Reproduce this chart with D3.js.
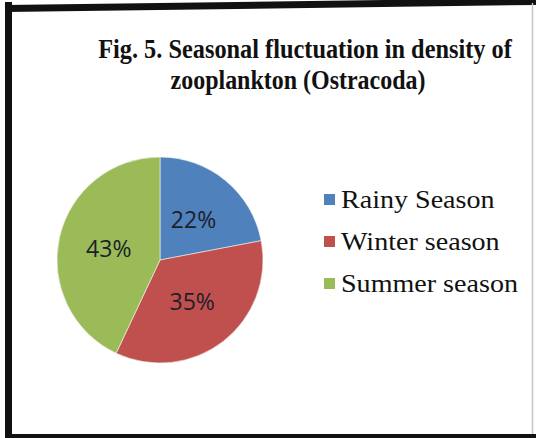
<!DOCTYPE html>
<html><head><meta charset="utf-8">
<script src="https://cdn.jsdelivr.net/npm/d3@7"></script>
<style>html,body{margin:0;padding:0;background:#fff;}svg{display:block;}</style>
</head><body>
<script>
const categories = ["Rainy Season", "Winter season", "Summer season"];
const values = [22, 35, 43];
const labels = ["22%", "35%", "43%"];
const titleLines = ["Fig. 5. Seasonal fluctuation in density of", "zooplankton (Ostracoda)"];
const colors = ["#4F81BD", "#C0504D", "#9BBB59"];

const W = 536, H = 438;
const svg = d3.select("body").append("svg").attr("width", W).attr("height", H);
svg.append("rect").attr("width", W).attr("height", H).attr("fill", "#fff");

// frame
svg.append("line").attr("x1", 8.5).attr("y1", 2).attr("x2", 8.5).attr("y2", 438)
  .attr("stroke", "#111").attr("stroke-width", 7);
svg.append("line").attr("x1", 5).attr("y1", 8.5).attr("x2", 536).attr("y2", 1.5)
  .attr("stroke", "#111").attr("stroke-width", 7);
svg.append("line").attr("x1", 5).attr("y1", 436).attr("x2", 536).attr("y2", 436)
  .attr("stroke", "#111").attr("stroke-width", 4);
svg.append("line").attr("x1", 532.5).attr("y1", 3).attr("x2", 532.5).attr("y2", 434)
  .attr("stroke", "#c4c4c4").attr("stroke-width", 1.5);

// title (condensed to the reference's widths)
const titleX = [305, 298], titleY = [58, 89], titleLen = [414, 255];
svg.selectAll("text.title").data(titleLines).join("text")
  .attr("class", "title")
  .attr("x", 0).attr("y", 0)
  .attr("text-anchor", "middle")
  .attr("font-family", "'Liberation Serif','Times New Roman',serif")
  .attr("font-weight", "bold").attr("font-size", 28).attr("fill", "#111")
  .text(d => d)
  .each(function (d, i) {
    const s = titleLen[i] / this.getComputedTextLength();
    d3.select(this).attr("transform", `translate(${titleX[i]},${titleY[i]}) scale(${s},1)`);
  });

// pie
const cx = 160, cy = 260, r = 103;
const pie = d3.pie().sort(null).value(d => d)(values);
const arc = d3.arc().innerRadius(0).outerRadius(r);
const labelArc = d3.arc().innerRadius(r * 0.51).outerRadius(r * 0.51);
const g = svg.append("g").attr("transform", `translate(${cx},${cy})`);
g.selectAll("path").data(pie).join("path")
  .attr("d", arc).attr("fill", (d, i) => colors[i])
  .attr("stroke", "#f4f4f4").attr("stroke-width", 0.6);
g.selectAll("text").data(pie).join("text")
  .attr("transform", d => `translate(${labelArc.centroid(d)})`)
  .attr("text-anchor", "middle").attr("dy", "0.36em")
  .attr("font-family", "'Open Sans','Liberation Sans',sans-serif")
  .attr("font-size", 23).attr("fill", "#1e1e2a")
  .text((d, i) => labels[i]);

// legend
const ly = d3.scalePoint().domain(categories).range([200, 284]);
const lg = svg.append("g");
lg.selectAll("rect").data(categories).join("rect")
  .attr("x", 324).attr("y", d => ly(d) - 6).attr("width", 11).attr("height", 11)
  .attr("fill", (d, i) => colors[i]);
lg.selectAll("text").data(categories).join("text")
  .attr("transform", d => `translate(341,${ly(d) + 8}) scale(1.08,1)`)
  .attr("font-family", "'Liberation Serif','Times New Roman',serif")
  .attr("font-size", 26).attr("fill", "#111")
  .text(d => d);
</script>
</body></html>
